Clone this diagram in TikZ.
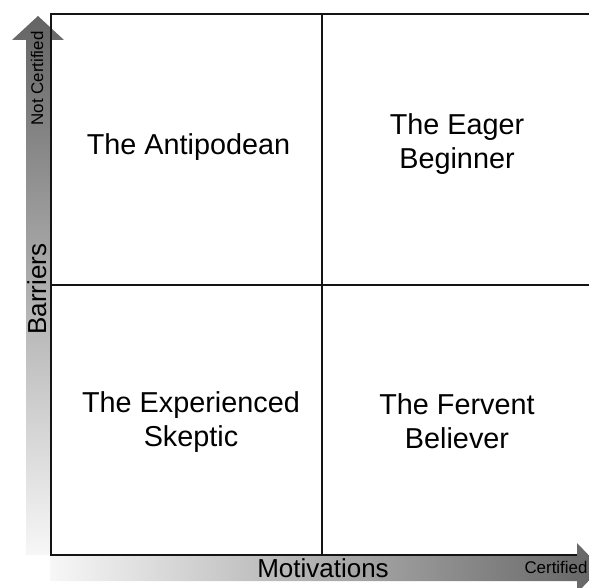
\documentclass[tikz,border=0pt]{standalone}
\usepackage{fontspec}
\setmainfont{Liberation Sans}
\definecolor{shaftlight}{HTML}{F7F7F7}
\definecolor{shaftdark}{HTML}{646464}
\definecolor{gridline}{HTML}{141414}
\begin{document}
\begin{tikzpicture}[x=1pt,y=-1pt,
  gridrule/.style={draw=gridline,line width=2.2pt},
  quadlabel/.style={inner sep=0pt,align=center,font=\fontsize{28.8}{34}\selectfont},
  axislabel/.style={inner sep=0pt,font=\fontsize{26}{30}\selectfont},
  endlabel/.style={inner sep=0pt,font=\fontsize{16.9}{20}\selectfont}]
\useasboundingbox (0,0) rectangle (589,588);
\clip (0,0) rectangle (589,588);

% axis arrows with grey gradients
\path[bottom color=shaftlight,top color=shaftdark]
  (26,555) -- (26,40) -- (12,40) -- (38,16) -- (64,40) -- (50,40) -- (50,555) -- cycle;
\path[left color=shaftlight,right color=shaftdark]
  (50,555) -- (577,555) -- (577,543) -- (601,568) -- (577,593) -- (577,581) -- (50,581) -- cycle;

% quadrant frame
\coordinate (tl) at (51,14);
\coordinate (tr) at (589,14);
\coordinate (bl) at (51,555);
\coordinate (br) at (577,555);
\coordinate (midtop) at (322,14);
\coordinate (midbot) at (322,555);
\coordinate (midleft) at (51,285);
\coordinate (midright) at (589,285);
\draw[gridrule] (tr) -- (tl) -- (bl) -- (br);
\draw[gridrule] (midtop) -- (midbot);
\draw[gridrule] (midleft) -- (midright);

% quadrant names
\node[quadlabel] (antipodean) at (188.5,147.5) {The Antipodean};
\node[quadlabel] (eager) at (457,144.5) {The Eager\\Beginner};
\node[quadlabel] (skeptic) at (191,422) {The Experienced\\Skeptic};
\node[quadlabel] (believer) at (457,421) {The Fervent\\Believer};

% axis names
\node[axislabel,rotate=90,anchor=base] (barriers) at (46,289) {Barriers};
\node[axislabel,anchor=base] (motivations) at (323,577) {Motivations};
\node[endlabel,rotate=90,anchor=base] (notcert) at (43,78.5) {Not Certified};
\node[endlabel,anchor=base] (cert) at (556,573) {Certified};
\end{tikzpicture}
\end{document}
